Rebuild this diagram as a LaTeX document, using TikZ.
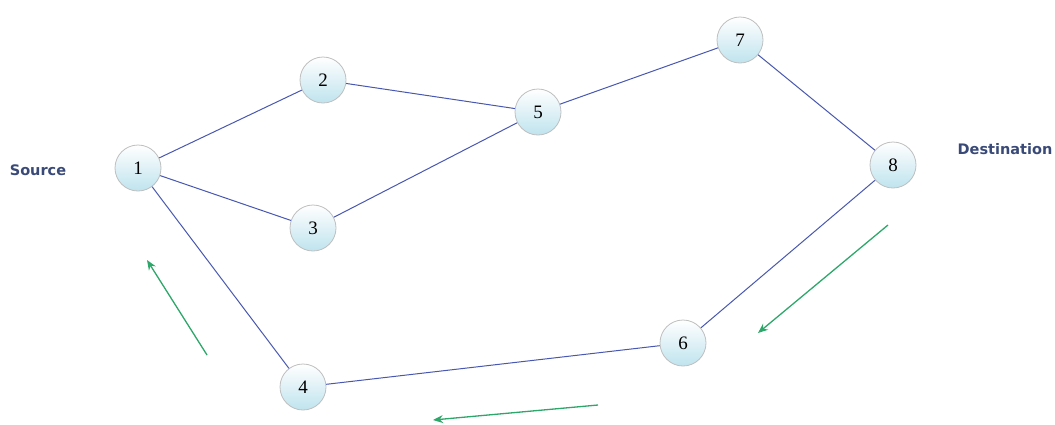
\documentclass[tikz,border=0pt]{standalone}
\usepackage{fontspec}
\newfontfamily\lblfont{DejaVu Sans}
\newfontfamily\numfont{Liberation Serif}
\usetikzlibrary{arrows.meta}
\definecolor{edgeblue}{HTML}{4858B0}
\definecolor{arrgreen}{HTML}{2EA86A}
\definecolor{lbl}{HTML}{3A4A78}
\definecolor{ballbot}{HTML}{BFE3EE}
\begin{document}
\begin{tikzpicture}[x=1pt,y=-1pt,
  ball/.style={circle,minimum size=46pt,inner sep=0pt,draw=gray!50,line width=0.8pt,
    top color=white,bottom color=ballbot,font=\numfont\fontsize{19}{19}\selectfont},
  link/.style={draw=edgeblue,line width=1pt},
  flow/.style={draw=arrgreen,line width=1.3pt,-{Stealth[length=10pt,width=8pt]}},
  tag/.style={text=lbl,font=\lblfont\bfseries\fontsize{14.5}{14.5}\selectfont}]
\useasboundingbox (0,0) rectangle (1055,424);
\node[ball] (n1) at (138,168) {1};
\node[ball] (n2) at (323,80) {2};
\node[ball] (n3) at (313,228) {3};
\node[ball] (n5) at (538,112) {5};
\node[ball] (n7) at (740,40) {7};
\node[ball] (n8) at (893,165) {8};
\node[ball] (n6) at (683,343) {6};
\node[ball] (n4) at (303,387) {4};
\path[link] (n1) -- (n2);
\path[link] (n1) -- (n3);
\path[link] (n2) -- (n5);
\path[link] (n3) -- (n5);
\path[link] (n5) -- (n7);
\path[link] (n7) -- (n8);
\path[link] (n8) -- (n6);
\path[link] (n6) -- (n4);
\path[link] (n4) -- (n1);
\node[tag] (src) at (38,170) {Source};
\node[tag] (dst) at (1005,149) {Destination};
\coordinate (a1s) at (207,355); \coordinate (a1e) at (147,260);
\coordinate (a2s) at (888,225); \coordinate (a2e) at (758,333);
\coordinate (a3s) at (598,405); \coordinate (a3e) at (433,420);
\draw[flow] (a1s) -- (a1e);
\draw[flow] (a2s) -- (a2e);
\draw[flow] (a3s) -- (a3e);
\end{tikzpicture}
\end{document}
